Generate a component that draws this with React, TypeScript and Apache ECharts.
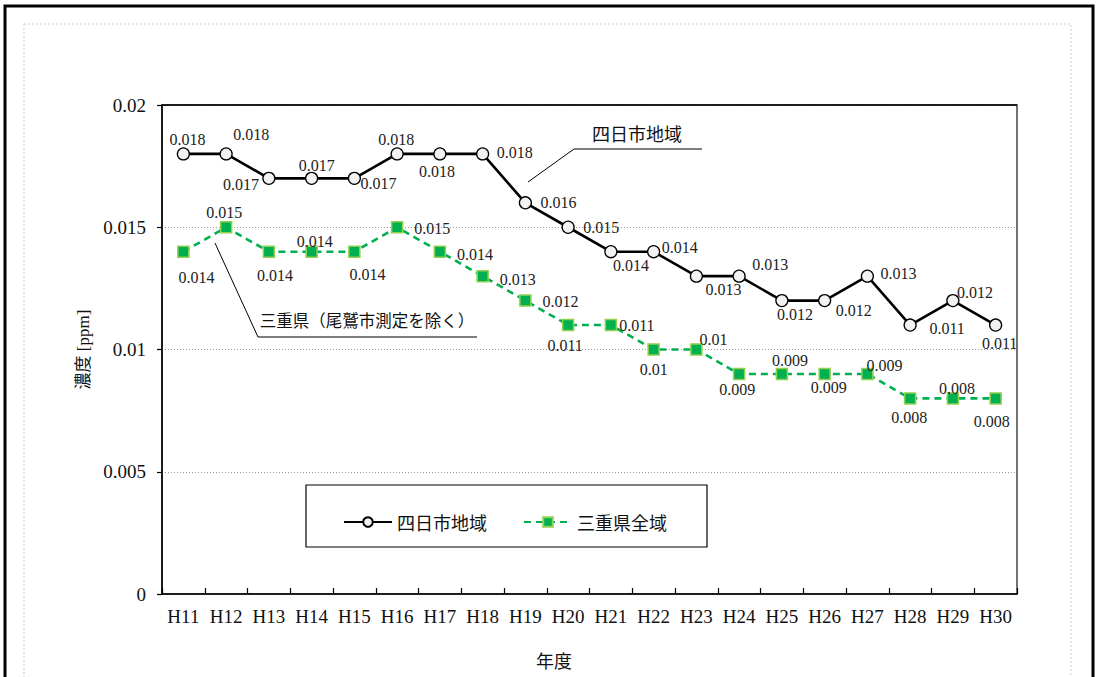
import React, { useEffect, useRef } from "react";
import * as echarts from "echarts";

const categories = ["H11","H12","H13","H14","H15","H16","H17","H18","H19","H20","H21","H22","H23","H24","H25","H26","H27","H28","H29","H30"];
const yokkaichi = [0.018,0.018,0.017,0.017,0.017,0.018,0.018,0.018,0.016,0.015,0.014,0.014,0.013,0.013,0.012,0.012,0.013,0.011,0.012,0.011];
const mie = [0.014,0.015,0.014,0.014,0.014,0.015,0.014,0.013,0.012,0.011,0.011,0.010,0.010,0.009,0.009,0.009,0.009,0.008,0.008,0.008];
const seriesNames = ["四日市地域", "三重県全域"];
const yTicks = { min: 0, max: 0.02, interval: 0.005 };

// label offsets (style only)
const yokOffsets: number[][] = [[4,-14],[25,-19],[-28,6],[5,-13],[24,5],[-1,-14],[-3,18],[32,-1],[33,0],[33,0],[20,14],[26,-4],[27,13],[31,-12],[13,14],[29,10],[31,-3],[37,3],[22,-8],[4,18]];
const mieOffsets: number[][] = [[13,26],[-2,-15],[6,24],[3,-10],[13,23],[35,1],[35,3],[35,3],[35,1],[-3,20],[26,0],[0,20],[17,-10],[-2,16],[8,-13],[4,14],[17,-8],[-1,19],[4,-10],[-4,23]];

const serif = "'Liberation Serif', 'Times New Roman', serif";
const sans = "'Noto Sans CJK JP', 'Noto Sans', sans-serif";
const mixed = "'Liberation Serif', 'Noto Sans CJK JP', serif";

export default function App() {
  const ref = useRef<HTMLDivElement>(null);
  useEffect(() => {
    if (!ref.current) return;
    const chart = echarts.init(ref.current, null, { renderer: "svg" });
    const labelBase = {
      show: true,
      position: "inside",
      align: "center",
      verticalAlign: "middle",
      color: "#222",
      fontFamily: serif,
      fontSize: 16,
    };
    chart.setOption({
      animation: false,
      backgroundColor: "#fff",
      grid: {
        left: 162, top: 105, right: 79, bottom: 83,
        show: true, borderColor: "#444", borderWidth: 1.5, backgroundColor: "transparent",
      },
      legend: {
        left: 338, top: 508,
        itemWidth: 48, itemHeight: 12, itemGap: 36,
        textStyle: { fontFamily: sans, fontSize: 18, color: "#111" },
        data: seriesNames,
      },
      xAxis: {
        type: "category",
        data: categories,
        axisLine: { lineStyle: { color: "#000", width: 1.5 } },
        axisTick: { show: true, inside: true, length: 6, lineStyle: { color: "#000", width: 1.2 } },
        axisLabel: { color: "#111", fontFamily: serif, fontSize: 19, margin: 13 },
      },
      yAxis: {
        type: "value",
        min: yTicks.min, max: yTicks.max, interval: yTicks.interval,
        name: "濃度 [ppm]",
        nameLocation: "middle",
        nameGap: 67,
        nameTextStyle: { fontFamily: mixed, fontSize: 17, color: "#111" },
        axisLine: { show: true, lineStyle: { color: "#000", width: 1.5 } },
        axisTick: { show: true, length: 5, lineStyle: { color: "#000", width: 1.2 } },
        axisLabel: { color: "#111", fontFamily: serif, fontSize: 19, margin: 16 },
        splitLine: { show: true, lineStyle: { color: "#999", type: [1, 2], width: 1 } },
      },
      series: [
        {
          name: seriesNames[0],
          type: "line",
          data: yokkaichi.map((v, i) => ({ value: v, label: { offset: yokOffsets[i] } })),
          symbol: "circle",
          symbolSize: 12,
          lineStyle: { color: "#000", width: 2.6 },
          itemStyle: { color: "#f2f2f2", borderColor: "#000", borderWidth: 1.3 },
          label: labelBase,
          z: 3,
        },
        {
          name: seriesNames[1],
          type: "line",
          data: mie.map((v, i) => ({ value: v, label: { offset: mieOffsets[i] } })),
          symbol: "rect",
          symbolSize: 11,
          lineStyle: { color: "#00b050", width: 2.6, type: [7, 5] },
          itemStyle: { color: "#00b050", borderColor: "#92d050", borderWidth: 1.5 },
          label: labelBase,
          z: 3,
        },
      ],
      graphic: [
        { type: "rect", shape: { x: 5, y: 6, width: 1088, height: 700 }, style: { fill: "none", stroke: "#000", lineWidth: 3 }, z: 10 },
        { type: "rect", shape: { x: 24, y: 24, width: 1047, height: 700 }, style: { fill: "none", stroke: "#d5e2f0", lineWidth: 1.5, lineDash: [2, 2] }, z: 0 },
        { type: "rect", shape: { x: 306, y: 485, width: 401, height: 62 }, style: { fill: "#fff", stroke: "#000", lineWidth: 1.2 }, z: 1 },
        { type: "line", shape: { x1: 162, y1: 105, x2: 1017, y2: 105 }, style: { stroke: "#000", lineWidth: 1.5 }, z: 4 },
        { type: "polyline", shape: { points: [[528, 182], [574, 149], [702, 149]] }, style: { stroke: "#000", lineWidth: 1, fill: "none" }, z: 5 },
        { type: "text", x: 637, y: 133, style: { text: "四日市地域", fontFamily: sans, fontSize: 18, fill: "#111", align: "center", verticalAlign: "middle" }, z: 5 },
        { type: "polyline", shape: { points: [[215, 243], [258, 337], [477, 337]] }, style: { stroke: "#000", lineWidth: 1, fill: "none" }, z: 5 },
        { type: "text", x: 367, y: 320, style: { text: "三重県（尾鷲市測定を除く）", fontFamily: sans, fontSize: 16.5, fill: "#111", align: "center", verticalAlign: "middle" }, z: 5 },
        { type: "text", x: 554, y: 660, style: { text: "年度", fontFamily: sans, fontSize: 18, fill: "#111", align: "center", verticalAlign: "middle" }, z: 5 },
      ],
    });
    return () => chart.dispose();
  }, []);
  return <div ref={ref} style={{ position: "absolute", left: 0, top: 0, width: 1096, height: 677 }} />;
}
